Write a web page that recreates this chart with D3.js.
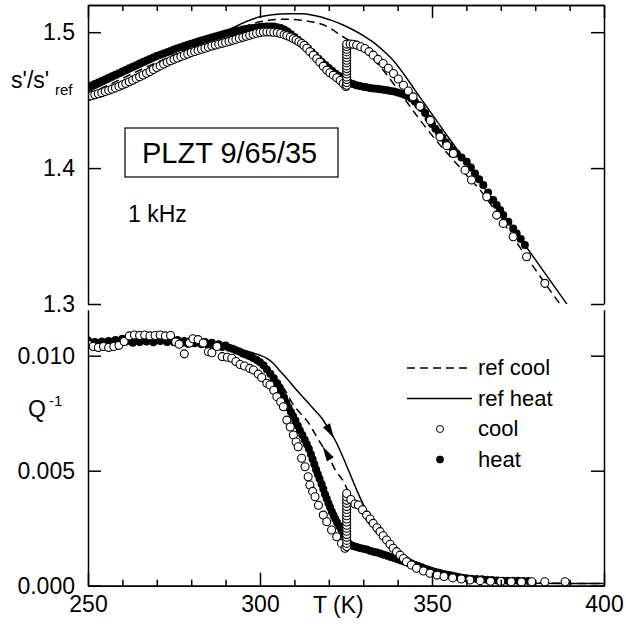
<!DOCTYPE html>
<html>
<head>
<meta charset="utf-8">
<script src="https://cdn.jsdelivr.net/npm/d3@7"></script>
<style>
  body { margin: 0; background: #fff; }
  svg { display: block; font-family: "Liberation Sans", Arial, sans-serif; }
</style>
</head>
<body>
<svg id="canvas" width="626" height="628"></svg>
<script>
// ---- Data: [T (K), value] ----

// s'/s'ref, heating (filled circles)
const sHeat = [[250,1.4597],[251,1.4608],[252,1.4619],[253,1.4630],[254,1.4641],[255,1.4652],[256,1.4664],[257,1.4675],[258,1.4687],[259,1.4698],
  [260,1.4710],[261,1.4722],[262,1.4734],[263,1.4746],[264,1.4757],[265,1.4769],[266,1.4780],[267,1.4791],[268,1.4802],[269,1.4813],
  [270,1.4824],[271,1.4834],[272,1.4843],[273,1.4853],[274,1.4862],[275,1.4872],[276,1.4881],[277,1.4890],[278,1.4898],[279,1.4907],
  [280,1.4915],[281,1.4923],[282,1.4931],[283,1.4939],[284,1.4947],[285,1.4954],[286,1.4961],[287,1.4968],[288,1.4975],[289,1.4983],
  [290,1.4990],[291,1.4996],[292,1.5002],[293,1.5008],[294,1.5013],[295,1.5019],[296,1.5023],[297,1.5027],[298,1.5031],[299,1.5035],
  [300,1.5038],[301,1.5040],[302,1.5041],[303,1.5042],[304,1.5041],[305,1.5037],[306,1.5030],[307,1.5020],[308,1.5005],[309,1.4985],
  [310,1.4965],[311,1.4945],[312,1.4925],[313,1.4905],[314,1.4880],[315,1.4855],[316,1.4830],[317,1.4804],[318,1.4780],[319,1.4758],
  [320,1.4737],[321,1.4715],[322,1.4695],[323,1.4677],[324,1.4657],[325,1.4640],[326,1.4628],[327,1.4618],[328,1.4610],[329,1.4604],
  [330,1.4599],[331,1.4594],[332,1.4590],[333,1.4586],[334,1.4583],[335,1.4580],[336,1.4576],[337,1.4572],[338,1.4568],[339,1.4563],
  [340,1.4556],[341,1.4548],[342,1.4540],[343,1.4528],[344,1.4512],[345,1.4490],[346,1.4465],[347,1.4440],[348,1.4405],[349,1.4365],
  [350,1.4325],[351,1.4290],[352,1.4262],[353,1.4225],[354,1.4190],[355,1.4160],[356.2,1.4130],[357.2,1.4108],[358.6,1.4078],
  [360.1,1.4046],[361.3,1.4005],[362.5,1.3961],[363.7,1.3918],[364.9,1.3875],[366.3,1.3820],[367.8,1.3765],[368.8,1.3728],[369.8,1.3691],
  [370.7,1.3654],[372.2,1.3605],[373.6,1.3556],[374.6,1.3519],[375.8,1.3478],[377.0,1.3434]];

// s'/s'ref, cooling (open circles)
const sCool = [[250,1.4525],[251,1.4532],[252,1.4540],[253,1.4547],[254,1.4555],[255,1.4563],[256,1.4572],[257,1.4581],[258,1.4590],[259,1.4601],
  [260,1.4612],[261,1.4623],[262,1.4635],[263,1.4647],[264,1.4660],[265,1.4672],[266,1.4685],[267,1.4697],[268,1.4710],[269,1.4725],
  [270,1.4740],[271,1.4752],[272,1.4765],[273,1.4778],[274,1.4790],[275,1.4800],[276,1.4810],[277,1.4820],[278,1.4830],[279,1.4840],
  [280,1.4850],[281,1.4858],[282,1.4866],[283,1.4874],[284,1.4882],[285,1.4890],[286,1.4898],[287,1.4905],[288,1.4912],[289,1.4918],
  [290,1.4925],[291,1.4932],[292,1.4940],[293,1.4947],[294,1.4955],[295,1.4962],[296,1.4970],[297,1.4977],[298,1.4985],[299,1.4992],
  [300,1.4998],[301,1.5001],[302,1.5002],[303,1.5002],[304,1.5000],[305,1.4997],[306,1.4990],[307,1.4982],[307.8,1.4975],[308.8,1.4965],
  [309.7,1.4952],[310.5,1.4942],[311.3,1.4930],[312.1,1.4917],[312.8,1.4902],[313.6,1.4882],[314.5,1.4857],[315.5,1.4831],[316.5,1.4805],
  [317.4,1.4780],[318.4,1.4750],[319.4,1.4721],[320.3,1.4702],[321.3,1.4684],[322.3,1.4665],[323.3,1.4645],[324.2,1.4622],[325.0,1.4600],
  [325.2,1.4610],[325.2,1.4630],[325.2,1.4651],[325.2,1.4670],[325.2,1.4692],[325.2,1.4713],[325.2,1.4732],[325.2,1.4752],[325.2,1.4774],
  [325.2,1.4793],[325.2,1.4814],[325.2,1.4834],[325.2,1.4855],[325.2,1.4874],[325.2,1.4895],[325.2,1.4912],
  [326.2,1.4913],[327.1,1.4911],[328.1,1.4905],[329.3,1.4893],[330.5,1.4880],[331.7,1.4857],[332.9,1.4831],[334.3,1.4800],[335.8,1.4770],
  [337.3,1.4735],[338.8,1.4696],[340.2,1.4655],[341.7,1.4610],[343.1,1.4567],[344.5,1.4524],[346.5,1.4455],[349.5,1.4350],[352.3,1.4230],
  [354.3,1.4165],[356.2,1.4108],[359.6,1.3985],[361.5,1.3912],[365.9,1.3789],[368.8,1.3654],[370.7,1.3593],[373.6,1.3495],[377.5,1.3348],
  [382.8,1.3152]];

// s'/s'ref, reference curves
const sRefHeat = [[250,1.4560],[255,1.4622],[260,1.4683],[265,1.4742],[270,1.4800],[275,1.4856],[280,1.4910],[285,1.4960],[290,1.5008],
  [294,1.5055],[297,1.5088],[300,1.5113],[303,1.5126],[306,1.5133],[309,1.5136],[312,1.5135],[315,1.5127],[318,1.5110],[321,1.5085],
  [324,1.5055],[327,1.5018],[330,1.4975],[333,1.4925],[336,1.4860],[339,1.4785],[342,1.4685],[345,1.4575],[348,1.4468],[352,1.4325],
  [356,1.4183],[360,1.4040],[365,1.3862],[370,1.3684],[375,1.3506],[380,1.3328],[385,1.3150],[389.2,1.3000]];
const sRefCool = [[250,1.4540],[255,1.4600],[260,1.4660],[265,1.4720],[270,1.4777],[275,1.4832],[280,1.4885],[285,1.4935],[290,1.4983],
  [294,1.5025],[297,1.5055],[300,1.5076],[303,1.5090],[306,1.5095],[309,1.5094],[312,1.5088],[315,1.5077],[318,1.5058],[321,1.5020],
  [323.3,1.4980],[325.2,1.4950],[327.5,1.4915],[330,1.4870],[333,1.4800],[336,1.4715],[339,1.4615],[342,1.4510],[345,1.4405],[348,1.4305],
  [352,1.4180],[356.7,1.4045],[360,1.3950],[364,1.3838],[368,1.3700],[372.7,1.3525],[376,1.3400],[380,1.3255],[385.3,1.3066],[387.2,1.3000]];

// Q^-1, heating (filled circles)
const qHeat = [[250,0.01066],[251,0.01050],[252,0.01060],[253,0.01046],[254,0.01062],[255,0.01052],[256,0.01064],[257,0.01050],[258,0.01068],
  [259,0.01058],[260,0.01074],[261,0.01062],[262,0.01070],[263,0.01056],[264,0.01072],[265,0.01060],[266,0.01074],[267,0.01062],[268,0.01072],
  [269,0.01058],[270,0.01074],[271,0.01064],[272,0.01072],[273,0.01060],[274,0.01070],[275,0.01058],[276,0.01068],[277,0.01054],[278,0.01064],
  [279,0.01052],[280,0.01066],[281,0.01054],[282,0.01062],[283,0.01050],[284,0.01060],[285,0.01046],[286,0.01056],[287,0.01042],[288,0.01050],
  [289,0.01038],[290,0.01044],[291,0.01035],[292,0.01030],[293,0.01024],[294,0.01018],[295,0.01010],[296,0.01004],[297,0.00998],[298,0.00990],
  [299,0.00982],[300,0.00972],[301,0.00958],[302,0.00940],[303,0.00922],[304,0.00902],[305,0.00880],[305.7,0.00862],[306.3,0.00840],
  [307,0.00818],[307.7,0.00795],[308.3,0.00775],[309,0.00755],[309.6,0.00738],[310.3,0.00718],[311,0.00695],[311.6,0.00675],[312.3,0.00655],
  [313,0.00635],[313.6,0.00615],[314.2,0.00595],[314.8,0.00572],[315.3,0.00550],[315.8,0.00528],[316.3,0.00505],[316.8,0.00485],
  [317.3,0.00465],[317.9,0.00442],[318.4,0.00420],[318.9,0.00398],[319.4,0.00378],[319.9,0.00358],[320.4,0.00340],[320.9,0.00322],
  [321.4,0.00305],[321.9,0.00290],[322.4,0.00275],[323,0.00260],[323.6,0.00245],[324.2,0.00232],[324.7,0.00215],[325.2,0.00198],
  [325.8,0.00184],[326.5,0.00176],[327.3,0.00171],[328.1,0.00168],[329,0.00164],[330,0.00161],[331,0.00157],[332,0.00152],[333,0.00148],
  [334,0.00144],[335,0.00140],[336,0.00135],[337,0.00130],[338,0.00125],[339,0.00120],[340,0.00115],[341,0.00110],[342,0.00105],
  [343,0.00100],[344,0.00096],[345,0.00091],[346,0.00086],[347,0.00080],[348,0.00074],[349,0.00069],[350,0.00064],[351,0.00060],
  [352,0.00056],[353,0.00052],[354,0.00049],[355,0.00046],[356,0.00043],[357,0.00040],[358,0.00037],[359,0.00034],[360,0.00032],
  [361.5,0.00030],[363,0.00029],[364.5,0.00028],[366,0.00026],[367.5,0.00025],[369,0.00023],[370.5,0.00022],[372,0.00022],[373.5,0.00021],
  [375,0.00021],[376.5,0.00020],[378,0.00020]];

// Q^-1, cooling (open circles)
const qCool = [[250,0.01050],[251.5,0.01040],[253,0.01036],[254.5,0.01040],[256,0.01036],[257.5,0.01040],[259,0.01045],[260.5,0.01062],
  [262,0.01086],[263.5,0.01090],[265,0.01088],[266.5,0.01090],[268,0.01086],[269.5,0.01088],[271,0.01090],[272.5,0.01086],[274,0.01088],
  [275.5,0.01060],[276.5,0.01050],[278,0.01008],[279.5,0.01055],[280.5,0.01074],[282,0.01070],[283.5,0.01055],[285,0.01017],[286,0.01013],
  [287.5,0.01040],[289,0.00996],[290.5,0.00993],[291.8,0.00989],[293,0.00975],[294.2,0.00962],[295.5,0.00955],[297,0.00945],[298.1,0.00938],
  [299.5,0.00920],[300.5,0.00905],[302,0.00880],[302.9,0.00873],[304,0.00850],[304.9,0.00822],[306,0.00800],[306.8,0.00778],[307.8,0.00720],
  [308.8,0.00690],[309.7,0.00655],[310.5,0.00625],[311.1,0.00604],[312.1,0.00554],[313.1,0.00517],[314,0.00474],[314.5,0.00438],
  [315.3,0.00410],[316,0.00387],[317,0.00350],[318.4,0.00307],[319.4,0.00278],[320.8,0.00242],[322.3,0.00213],[323.7,0.00184],[324.7,0.00163],
  [325.2,0.00170],[325.2,0.00184],[325.2,0.00197],[325.2,0.00211],[325.2,0.00223],[325.2,0.00237],[325.2,0.00250],[325.2,0.00263],
  [325.2,0.00277],[325.2,0.00290],[325.2,0.00304],[325.2,0.00317],[325.2,0.00331],[325.2,0.00344],[325.2,0.00358],[325.2,0.00371],
  [325.2,0.00386],[325.2,0.00401],
  [326.4,0.00375],[327.6,0.00355],[328.6,0.00351],[329.8,0.00330],[331,0.00307],[332,0.00290],[332.9,0.00271],[334,0.00252],[334.9,0.00235],
  [335.8,0.00217],[336.8,0.00199],[337.8,0.00180],[338.7,0.00163],[339.7,0.00148],[340.7,0.00133],[341.7,0.00118],[342.6,0.00104],
  [344,0.00090],[345.5,0.00076],[347.5,0.00064],[349.4,0.00054],[351.5,0.00046],[353.5,0.00040],[356,0.00034],[358.5,0.00029],[361,0.00025],
  [364,0.00022],[367,0.00019],[370,0.00018],[373,0.00017],[376,0.00016],[379,0.00017],[382.8,0.00017],[388.7,0.00017]];

// Q^-1, reference curves
const qRefHeat = [[250,0.01062],[260,0.01064],[270,0.01066],[280,0.01062],[285,0.01056],[290,0.01046],[295,0.01025],[298,0.01012],
  [300,0.01002],[302,0.00988],[304,0.00965],[306,0.00930],[308,0.00898],[310,0.00862],[312,0.00828],[314,0.00795],[316,0.00762],
  [318,0.00728],[320,0.00680],[322,0.00628],[324,0.00563],[326,0.00492],[328,0.00420],[330,0.00355],[332,0.00300],[334,0.00255],
  [336,0.00214],[338,0.00185],[340,0.00155],[342,0.00133],[344,0.00112],[346,0.00097],[348,0.00083],[350,0.00072],[352,0.00062],
  [355,0.00048],[358,0.00036],[362,0.00026],[366,0.00020],[370,0.00016],[375,0.00013],[380,0.00011],[390,0.00010],[400,0.00010]];
const qRefCool = [[250,0.01058],[260,0.01062],[270,0.01062],[280,0.01058],[285,0.01050],[290,0.01036],[293,0.01020],[296,0.00998],
  [299,0.00968],[302,0.00930],[304,0.00898],[306.8,0.00860],[310,0.00780],[312,0.00745],[314,0.00710],[316,0.00660],[318,0.00610],
  [320,0.00560],[322,0.00500],[324,0.00460],[326,0.00400],[328,0.00350],[330,0.00305],[332,0.00265],[334,0.00228],[336,0.00195],
  [338,0.00165],[340,0.00140],[342,0.00118],[344,0.00100],[346,0.00085],[348,0.00072],[350,0.00062],[353,0.00050],[356,0.00040],
  [360,0.00030],[365,0.00022],[370,0.00017],[380,0.00012],[390,0.00010],[400,0.00010]];

// Axis ticks
const xMajor = [250, 300, 350, 400];
const xMinor = [260, 270, 280, 290, 310, 320, 330, 340, 360, 370, 380, 390];
const sTicks = [1.3, 1.4, 1.5];
const qTicks = [0, 0.005, 0.010];

// Legend entries
const legendItems = [
    { label: 'ref cool', kind: 'dash' },
    { label: 'ref heat', kind: 'line' },
    { label: 'cool', kind: 'open' },
    { label: 'heat', kind: 'filled' }
];

// ---- Layout ----
const FONT = 23;
const R = 4;
const DASH = '8,5';
const plotLeft = 88, plotRight = 604;
const topTop = 5, topBottom = 304;
const botTop = 309.7, botBottom = 585.7;

const svg = d3.select('#canvas');

const x = d3.scaleLinear().domain([250, 400]).range([plotLeft, plotRight]);
const yS = d3.scaleLinear().domain([1.3, 1.52]).range([topBottom, topTop]);
const yQ = d3.scaleLinear().domain([0, 0.012]).range([botBottom, botTop]);

// Clip paths for each panel
const defs = svg.append('defs');
defs.append('clipPath').attr('id', 'clipTop').append('rect')
    .attr('x', plotLeft).attr('y', topTop).attr('width', plotRight - plotLeft).attr('height', topBottom - topTop);
defs.append('clipPath').attr('id', 'clipBot').append('rect')
    .attr('x', plotLeft).attr('y', botTop - 2).attr('width', plotRight - plotLeft).attr('height', botBottom - botTop + 2);

const styleAxis = (g) => {
    g.selectAll('path, line').attr('stroke', '#000').attr('stroke-width', 1.5);
    g.selectAll('text').attr('font-size', FONT).attr('font-family', '"Liberation Sans", Arial, sans-serif').attr('fill', '#000');
};

const drawPanel = (y, clipId, heat, cool, refHeat, refCool) => {
    const panel = svg.append('g').attr('clip-path', `url(#${clipId})`);
    const line = d3.line().x(d => x(d[0])).y(d => y(d[1])).curve(d3.curveMonotoneX);

    panel.append('path').datum(refCool)
        .attr('d', line).attr('fill', 'none').attr('stroke', '#000')
        .attr('stroke-width', 1.5).attr('stroke-dasharray', DASH);
    panel.append('path').datum(refHeat)
        .attr('d', line).attr('fill', 'none').attr('stroke', '#000').attr('stroke-width', 1.5);

    panel.append('g').selectAll('circle').data(heat).enter().append('circle')
        .attr('cx', d => x(d[0])).attr('cy', d => y(d[1])).attr('r', R).attr('fill', '#000');
    panel.append('g').selectAll('circle').data(cool).enter().append('circle')
        .attr('cx', d => x(d[0])).attr('cy', d => y(d[1])).attr('r', R)
        .attr('fill', '#fff').attr('stroke', '#000').attr('stroke-width', 1.1);
};

drawPanel(yS, 'clipTop', sHeat, sCool, sRefHeat, sRefCool);
drawPanel(yQ, 'clipBot', qHeat, qCool, qRefHeat, qRefCool);

// ---- Axes: top panel ----
svg.append('g').attr('transform', `translate(0,${topTop})`)
    .call(d3.axisTop(x).tickValues(xMajor).tickSize(-13).tickSizeOuter(0).tickFormat(''))
    .call(styleAxis);
svg.append('g').attr('transform', `translate(0,${topTop})`)
    .call(d3.axisTop(x).tickValues(xMinor).tickSize(-6).tickSizeOuter(0).tickFormat(''))
    .call(styleAxis);
svg.append('g').attr('transform', `translate(${plotLeft},0)`)
    .call(d3.axisLeft(yS).tickValues(sTicks).tickSize(-13).tickSizeOuter(0).tickPadding(13).tickFormat(d3.format('.1f')))
    .call(styleAxis);
svg.append('g').attr('transform', `translate(${plotRight},0)`)
    .call(d3.axisRight(yS).tickValues(sTicks).tickSize(-13).tickSizeOuter(0).tickFormat(''))
    .call(styleAxis);

// ---- Axes: bottom panel ----
svg.append('g').attr('transform', `translate(0,${botBottom})`)
    .call(d3.axisBottom(x).tickValues(xMajor).tickSize(-13).tickSizeOuter(0).tickPadding(10).tickFormat(d3.format('d')))
    .call(styleAxis);
svg.append('g').attr('transform', `translate(0,${botBottom})`)
    .call(d3.axisBottom(x).tickValues(xMinor).tickSize(-6).tickSizeOuter(0).tickFormat(''))
    .call(styleAxis);
svg.append('g').attr('transform', `translate(${plotLeft},0)`)
    .call(d3.axisLeft(yQ).tickValues(qTicks).tickSize(-13).tickSizeOuter(0).tickPadding(13).tickFormat(d3.format('.3f')))
    .call(styleAxis);
svg.append('g').attr('transform', `translate(${plotRight},0)`)
    .call(d3.axisRight(yQ).tickValues(qTicks).tickSize(-13).tickSizeOuter(0).tickFormat(''))
    .call(styleAxis);

// ---- Direction arrows on the Q^-1 reference curves ----
const arrowHead = (data, t, dir) => {
    const f = d3.scaleLinear().domain(data.map(d => d[0])).range(data.map(d => d[1]));
    const tx = x(t), ty = yQ(f(t));
    const bx = x(t - dir * 1.5), by = yQ(f(t - dir * 1.5));
    const len = Math.hypot(tx - bx, ty - by);
    const ux = (tx - bx) / len, uy = (ty - by) / len;
    const L = 15, W = 4;
    const cx = tx - ux * L, cy = ty - uy * L;
    const pts = [[tx, ty], [cx - uy * W, cy + ux * W], [cx + uy * W, cy - ux * W]];
    svg.append('path').attr('d', 'M' + pts.join('L') + 'Z').attr('fill', '#000');
};
arrowHead(qRefHeat, 321.5, 1);
arrowHead(qRefCool, 318.2, -1);

// ---- Text labels ----
const addText = (tx, ty, str, size, anchor) => svg.append('text')
    .attr('x', tx).attr('y', ty).attr('font-size', size)
    .attr('text-anchor', anchor || 'start').text(str);

addText(11, 88, "s'/s'", FONT);
addText(55, 95, 'ref', 15);
addText(28, 417, 'Q', FONT);
addText(49, 406, '-1', 15);
addText(313, 613, 'T (K)', FONT);
addText(128, 222, '1 kHz', FONT);

svg.append('rect').attr('x', 125).attr('y', 128).attr('width', 213).attr('height', 49)
    .attr('fill', '#fff').attr('stroke', '#000').attr('stroke-width', 1.2);
addText(142, 163, 'PLZT 9/65/35', 29);

// ---- Legend ----
const legend = svg.append('g').attr('transform', 'translate(407,368)');
legendItems.forEach((item, i) => {
    const g = legend.append('g').attr('transform', `translate(0,${i * 30.5})`);
    if (item.kind === 'dash' || item.kind === 'line') {
        g.append('line').attr('x1', 0).attr('x2', 65).attr('y1', 0).attr('y2', 0)
            .attr('stroke', '#000').attr('stroke-width', 1.5)
            .attr('stroke-dasharray', item.kind === 'dash' ? DASH : null);
    } else {
        g.append('circle').attr('cx', 33).attr('cy', 0).attr('r', 3.5)
            .attr('fill', item.kind === 'filled' ? '#000' : '#fff')
            .attr('stroke', '#000').attr('stroke-width', 1);
    }
    g.append('text').attr('x', 71).attr('y', 7).attr('font-size', 22).text(item.label);
});
</script>
</body>
</html>
